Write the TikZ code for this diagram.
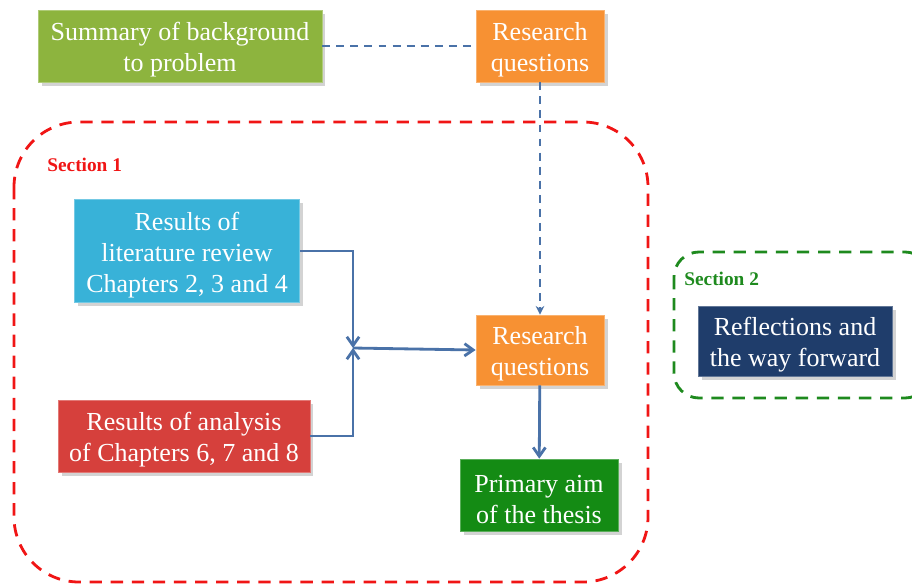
\documentclass[tikz,border=0pt]{standalone}
\usepackage{fontspec}
\setmainfont{Liberation Serif}
\usetikzlibrary{arrows.meta, shadows}
\definecolor{sumgreen}{HTML}{8DB43E}
\definecolor{rqorange}{HTML}{F79133}
\definecolor{litcyan}{HTML}{38B2D8}
\definecolor{anared}{HTML}{D6403C}
\definecolor{aimgreen}{HTML}{148B14}
\definecolor{refnavy}{HTML}{1F3D6B}
\definecolor{linkblue}{HTML}{4A72A8}
\definecolor{seca}{HTML}{F01515}
\definecolor{secb}{HTML}{1E8A1E}
\begin{document}
\begin{tikzpicture}
        [x=0.02cm, y=-0.02cm,
        box/.style={rectangle, fill=#1, draw=#1!70!white, thin, text=white, align=center,
          font=\fontsize{14.8}{17.6}\selectfont, inner sep=2pt,
          drop shadow={opacity=0.35, shadow xshift=2pt, shadow yshift=-2pt}},
        arr/.style={-{Straight Barb[length=5pt,width=7pt]}, linkblue, line width=1.6pt},
        dline/.style={linkblue, semithick, dash pattern=on 4.5pt off 3.5pt},
        sect/.style={rounded corners=1.3cm, line width=1.6pt, dash pattern=on 7pt off 5pt},
        seclabel/.style={font=\fontsize{11}{13}\selectfont\bfseries, anchor=west, inner sep=0pt}]
        \useasboundingbox (0,0) rectangle (912,585);
        % section frames
        \draw[sect, seca] (14,122) rectangle (648,582);
        \draw[sect, secb, rounded corners=0.5cm] (674,252) rectangle (930,398);
        \node (s1) at (47,165) [seclabel, seca] {Section 1};
        \node (s2) at (684,279) [seclabel, secb] {Section 2};
        % boxes
        \node (sum) at (180,46) [box=sumgreen, minimum width=5.68cm, minimum height=1.44cm]
           {\rule{0pt}{1em}Summary of background\\to problem};
        \node (rq1) at (540,46) [box=rqorange, minimum width=2.56cm, minimum height=1.44cm]
           {\rule{0pt}{1em}Research\\questions};
        \node (lit) at (187,251) [box=litcyan, minimum width=4.5cm, minimum height=2.06cm]
           {\rule{0pt}{1em}Results of\\literature review\\Chapters 2, 3 and 4};
        \node (ana) at (184,436) [box=anared, minimum width=5.04cm, minimum height=1.44cm]
           {\rule{0pt}{1em}Results of analysis\\of Chapters 6, 7 and 8};
        \node (rq2) at (540,350) [box=rqorange, minimum width=2.56cm, minimum height=1.4cm]
           {\rule{0pt}{1em}Research\\questions};
        \node (aim) at (539,495) [box=aimgreen, minimum width=3.16cm, minimum height=1.44cm]
           {\rule{0pt}{1em}Primary aim\\of the thesis};
        \node (way) at (795,341) [box=refnavy, minimum width=3.88cm, minimum height=1.4cm]
           {\rule{0pt}{1em}Reflections and\\the way forward};
        \coordinate (jn) at (353,348);
        % connectors
        \draw[dline] (sum) -- (rq1);
        \draw[dline, -{Stealth[length=5pt,width=5pt]}] (rq1) -- (rq2);
        \draw[arr] (lit.east) -| (jn);
        \draw[arr] (ana.east) -| (jn);
        \draw[arr] (jn) -- (rq2.west);
        \draw[arr] (rq2) -- (aim);
     \end{tikzpicture}
\end{document}
